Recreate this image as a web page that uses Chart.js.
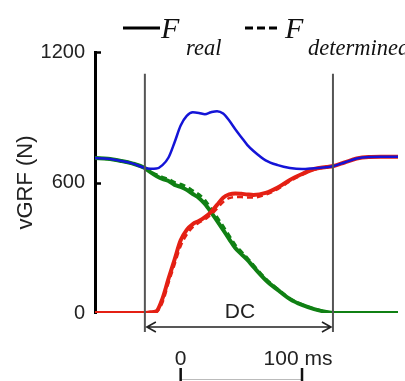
<!DOCTYPE html>
<html>
<head>
<meta charset="utf-8">
<script src="https://cdn.jsdelivr.net/npm/chart.js@4.4.1/dist/chart.umd.min.js"></script>
<style>
  html, body { margin: 0; padding: 0; background: #fff; }
  canvas { display: block; }
</style>
</head>
<body>
<canvas id="chart" width="405" height="381"></canvas>
<script>
// time in ms, 0 = start of the scale bar
var timeMs = [-71, -60, -50, -40, -30, -25, -20, -15, -10, -5, 0, 5, 10, 15, 20, 25, 30, 35, 40, 45,
              50, 55, 60, 70, 80, 90, 100, 110, 120, 126, 135, 145, 155, 165, 180];

// total vGRF (blue)
var total = [713, 709, 700, 688, 668, 663, 664, 680, 715, 785, 862, 906, 923, 920, 914, 923, 928, 917, 885, 845,
             808, 772, 745, 702, 680, 667, 662, 666, 670, 676, 692, 710, 717, 718, 718];

// rising leg (red)
var redReal = [0, 0, 0, 0, 0, 3, 8, 66, 158, 246, 334, 382, 409, 423, 441, 464, 497, 530, 545, 550,
               548, 545, 543, 552, 577, 612, 639, 662, 671, 676, 692, 710, 717, 718, 718];
var redDet  = [0, 0, 0, 0, 0, 2, 5, 48, 138, 224, 308, 360, 395, 415, 430, 452, 480, 510, 528, 533,
               533, 531, 531, 544, 570, 605, 635, 658, 670, 676, 692, 710, 717, 718, 718];

// falling leg (green)
var greenReal = [713, 709, 700, 688, 668, 648, 630, 616, 607, 589, 580, 566, 547, 529, 501, 464, 423, 382, 340, 299,
                 271, 244, 212, 152, 106, 64, 37, 18, 5, 0, 0, 0, 0, 0, 0];
var greenDet  = [713, 709, 700, 688, 668, 650, 636, 624, 615, 600, 592, 580, 562, 545, 518, 480, 440, 398, 355, 312,
                 282, 252, 220, 158, 110, 67, 39, 19, 5, 0, 0, 0, 0, 0, 0];

var yTicks = [0, 600, 1200];
var dcStart = -29.5, dcEnd = 125.5;   // double contact phase, ms
var barTicks = [0, 100];
var barLabels = ['0', '100 ms'];

function pts(values) {
  return values.map(function (v, i) { return { x: timeMs[i], y: v }; });
}

var blue = 'rgb(20,20,215)';
var red = 'rgb(228,32,20)';
var green = 'rgb(16,128,20)';

function line(label, values, color, width, dash, order) {
  return {
    label: label,
    data: pts(values),
    borderColor: color,
    borderWidth: width,
    borderDash: dash,
    pointRadius: 0,
    fill: false,
    cubicInterpolationMode: 'monotone',
    order: order
  };
}

var extras = {
  id: 'extras',
  afterDraw: function (chart) {
    var ctx = chart.ctx;
    var xs = chart.scales.x, ys = chart.scales.y;
    ctx.save();

    // inward y ticks
    ctx.strokeStyle = '#000';
    ctx.lineWidth = 2.5;
    yTicks.forEach(function (v) {
      if (v === 0) return;
      var py = Math.round(ys.getPixelForValue(v)) + 0.5;
      ctx.beginPath();
      ctx.moveTo(xs.left, py);
      ctx.lineTo(xs.left + 6, py);
      ctx.stroke();
    });

    // double contact boundaries
    var top = ys.getPixelForValue(1100);
    var x1 = xs.getPixelForValue(dcStart), x2 = xs.getPixelForValue(dcEnd);
    ctx.strokeStyle = '#555';
    ctx.lineWidth = 2;
    [x1, x2].forEach(function (px) {
      ctx.beginPath();
      ctx.moveTo(px, top);
      ctx.lineTo(px, ys.bottom + 19);
      ctx.stroke();
    });

    // DC arrow
    var ay = ys.bottom + 14;
    ctx.strokeStyle = '#222';
    ctx.lineWidth = 1.6;
    ctx.beginPath();
    ctx.moveTo(x1 + 2, ay); ctx.lineTo(x2 - 2, ay);
    ctx.moveTo(x1 + 11, ay - 5); ctx.lineTo(x1 + 2, ay); ctx.lineTo(x1 + 11, ay + 5);
    ctx.moveTo(x2 - 11, ay - 5); ctx.lineTo(x2 - 2, ay); ctx.lineTo(x2 - 11, ay + 5);
    ctx.stroke();

    ctx.fillStyle = '#222';
    ctx.font = '21px "Liberation Sans", Arial, sans-serif';
    ctx.textAlign = 'center';
    ctx.textBaseline = 'alphabetic';
    ctx.fillText('DC', (x1 + x2) / 2 + 1, ys.bottom + 5);

    // scale bar
    var b0 = xs.getPixelForValue(barTicks[0]), b1 = xs.getPixelForValue(barTicks[1]);
    ctx.fillText(barLabels[0], b0, 365);
    ctx.fillText(barLabels[1], b1 - 4, 365);
    ctx.strokeStyle = '#bbb';
    ctx.lineWidth = 1;
    ctx.beginPath();
    ctx.moveTo(b0, 379.5); ctx.lineTo(b1, 379.5);
    ctx.stroke();
    ctx.strokeStyle = '#111';
    ctx.lineWidth = 2.5;
    ctx.beginPath();
    ctx.moveTo(b0, 368); ctx.lineTo(b0, 381);
    ctx.moveTo(b1, 368); ctx.lineTo(b1, 381);
    ctx.stroke();

    // legend
    ctx.strokeStyle = '#000';
    ctx.lineWidth = 3;
    ctx.beginPath();
    ctx.moveTo(123, 28); ctx.lineTo(160, 28);
    ctx.stroke();
    ctx.setLineDash([8, 4]);
    ctx.beginPath();
    ctx.moveTo(245, 28); ctx.lineTo(279, 28);
    ctx.stroke();
    ctx.setLineDash([]);

    ctx.fillStyle = '#111';
    ctx.textAlign = 'left';
    ctx.font = 'italic 30px "Liberation Serif", "Times New Roman", serif';
    ctx.fillText('F', 161, 38);
    ctx.fillText('F', 285, 38);
    ctx.font = 'italic 22.5px "Liberation Serif", "Times New Roman", serif';
    ctx.fillText('real', 186, 55);
    ctx.fillText('determined', 308, 55);

    ctx.restore();
  }
};

new Chart(document.getElementById('chart').getContext('2d'), {
  type: 'line',
  data: {
    datasets: [
      line('total', total, blue, 2.5, [], 0),
      line('red real', redReal, red, 4, [], 3),
      line('red determined', redDet, red, 2.5, [6, 4], 2),
      line('green real', greenReal, green, 4, [], 5),
      line('green determined', greenDet, green, 3, [6, 4], 4)
    ]
  },
  options: {
    responsive: false,
    animation: false,
    devicePixelRatio: 1,
    layout: { padding: { top: 52, bottom: 68, right: 7, left: 0 } },
    plugins: { legend: { display: false }, tooltip: { enabled: false } },
    scales: {
      x: {
        type: 'linear',
        display: false,
        min: -70.6,
        max: 179.1
      },
      y: {
        min: 0,
        max: 1200,
        afterFit: function (s) { s.width = 95; },
        afterBuildTicks: function (s) { s.ticks = yTicks.map(function (v) { return { value: v }; }); },
        grid: { display: false, drawTicks: false },
        border: { display: true, color: '#000', width: 3 },
        ticks: {
          padding: 10,
          color: '#222',
          font: { family: '"Liberation Sans", Arial, sans-serif', size: 20 },
          callback: function (v) { return String(v); }
        },
        title: {
          display: true,
          text: 'vGRF (N)',
          color: '#222',
          font: { family: '"Liberation Sans", Arial, sans-serif', size: 22 },
          padding: { top: 13, bottom: 0 }
        }
      }
    }
  },
  plugins: [extras]
});
</script>
</body>
</html>
